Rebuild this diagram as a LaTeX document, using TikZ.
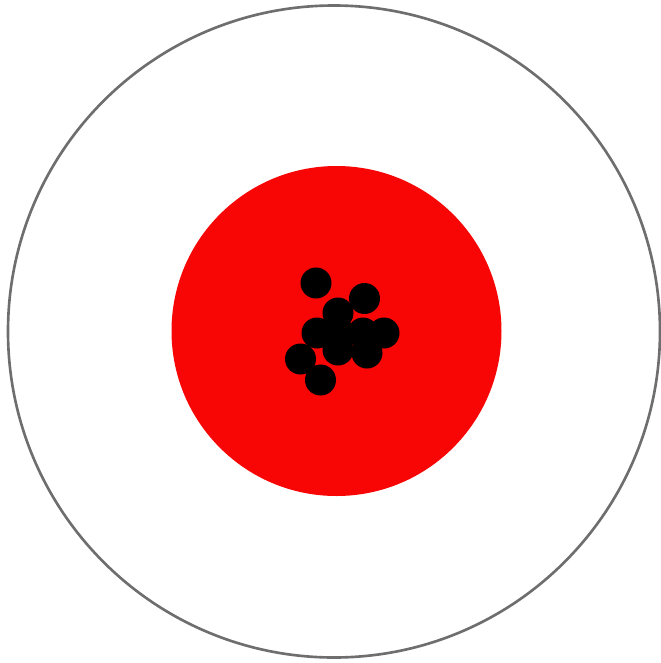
\documentclass[tikz,border=0pt]{standalone}
\usepackage{tikz}
\usetikzlibrary{calc}
\definecolor{targetred}{RGB}{248,5,5}
\definecolor{ringgray}{RGB}{110,110,110}

\begin{document}
\begin{tikzpicture}[x=0.01cm,y=-0.01cm]
      \def\R{326}
      \def\r{165}
      \def\d{15.5}
      \useasboundingbox (0,0) rectangle (661,663);
      \coordinate (c0) at (334,331.5);
      \coordinate (c1) at (336.5,331);
      %Outer ring
      \draw[ringgray, line width=0.75pt] (c0) circle (\R);
      %Red centre
      \fill[targetred] (c1) circle (\r);
      %Draw hits
      \foreach \x/\y in {316/283, 364.5/298.5, 338/313, 317/333, 338/332,
          338/350, 363/333, 384/333, 367/353, 300.5/359, 320.5/380} {
          \fill[black] (\x,\y) circle (\d);
        }
    \end{tikzpicture}
\end{document}
